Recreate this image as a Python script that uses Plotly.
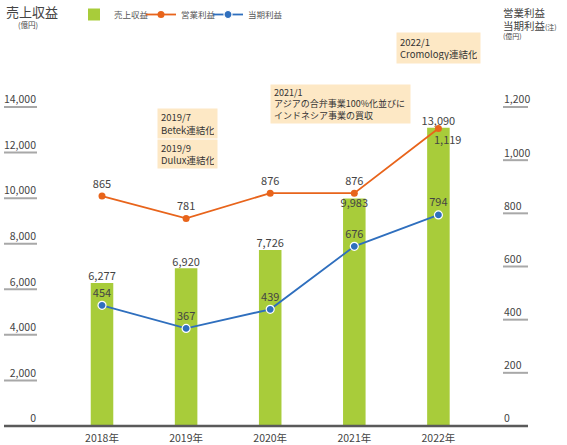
import plotly.graph_objects as go

years = ["2018年", "2019年", "2020年", "2021年", "2022年"]
revenue = [6277, 6920, 7726, 9983, 13090]
operating_profit = [865, 781, 876, 876, 1119]
net_profit = [454, 367, 439, 676, 794]

left_ticks = [0, 2000, 4000, 6000, 8000, 10000, 12000, 14000]
right_ticks = [0, 200, 400, 600, 800, 1000, 1200]

revenue_label_pos = ["top center", "top center", "top center", "bottom center", "top center"]

events = [
    "2022/1<br>Cromology連結化",
    "2021/1<br>アジアの合弁事業100%化並びに<br>インドネシア事業の買収",
    "2019/7<br>Betek連結化",
    "2019/9<br>Dulux連結化",
]

GREEN = "#A8CC3A"
ORANGE = "#E8641B"
BLUE = "#2F6FBE"
TXT = "#444444"
FONT = "Noto Sans CJK JP"

W, H = 567, 445
OL, OR, OT, OB = 4, 528, 96, 430
IL, IR = 37, 503
ZERO_PX, TOP_TICK_PX = 426, 107

PXU = (ZERO_PX - TOP_TICK_PX) / left_ticks[-1]
PXU2 = (ZERO_PX - TOP_TICK_PX) / right_ticks[-1]
Y_RANGE = [-(OB - ZERO_PX) / PXU, (ZERO_PX - OT) / PXU]
Y2_RANGE = [-(OB - ZERO_PX) / PXU2, (ZERO_PX - OT) / PXU2]


def px(x):
    return (x - OL) / (OR - OL)


def py(y):
    return (OB - y) / (OB - OT)


fig = go.Figure()

# baseline and tick underlines first (underneath the data)
for t in left_ticks[1:]:
    fig.add_trace(go.Scatter(
        x=[0, px(IL)], y=[t, t], xaxis="x2", yaxis="y", mode="lines",
        line=dict(color="#A8A8A8", width=2), showlegend=False,
        hoverinfo="skip",
    ))
for t in right_ticks[1:]:
    fig.add_trace(go.Scatter(
        x=[px(IR), 1], y=[t, t], xaxis="x2", yaxis="y2", mode="lines",
        line=dict(color="#A8A8A8", width=2), showlegend=False,
        hoverinfo="skip",
    ))

fig.add_trace(go.Bar(
    x=years, y=revenue, name="売上収益", width=0.268,
    marker=dict(color=GREEN, line=dict(width=0)),
    hoverinfo="skip",
))

fig.add_trace(go.Scatter(
    x=years, y=revenue, mode="text",
    text=[f"{v:,}" for v in revenue], textposition=revenue_label_pos,
    textfont=dict(size=11, color=TXT), showlegend=False, cliponaxis=False,
))

op_text = [f"{v:,}" for v in operating_profit]
op_text[-1] = ""
fig.add_trace(go.Scatter(
    x=years, y=operating_profit, name="営業利益", yaxis="y2",
    mode="lines+markers+text", text=op_text, textposition="top center",
    textfont=dict(size=11, color=TXT),
    line=dict(color=ORANGE, width=1.8),
    marker=dict(color=ORANGE, size=7),
    cliponaxis=False,
))

fig.add_trace(go.Scatter(
    x=years, y=net_profit, name="当期利益", yaxis="y2",
    mode="lines+markers+text", text=[f"{v:,}" for v in net_profit],
    textposition="top center", textfont=dict(size=11, color=TXT),
    line=dict(color=BLUE, width=1.8),
    marker=dict(color=BLUE, size=8, line=dict(color="white", width=1.2)),
    cliponaxis=False,
))

fig.add_trace(go.Scatter(
    x=[None], y=[None], name=" ", mode="lines",
    line=dict(color="rgba(0,0,0,0)", width=0), hoverinfo="skip",
))

# baseline on top of bars
fig.add_trace(go.Scatter(
    x=[0, 1], y=[0, 0], xaxis="x2", yaxis="y2", mode="lines",
    line=dict(color="#5A5A5A", width=2.4), showlegend=False, hoverinfo="skip",
))

annotations = [
    dict(x=years[-1], y=operating_profit[-1], xref="x", yref="y2",
         text=f"{operating_profit[-1]:,}", showarrow=False,
         xshift=9, yshift=-10, font=dict(size=11, color=TXT)),
    dict(x=px(4), y=py(11), xref="paper", yref="paper", text="売上収益",
         showarrow=False, xanchor="left", yanchor="middle",
         font=dict(size=13, color=TXT)),
    dict(x=px(28), y=py(24.5), xref="paper", yref="paper", text="(億円)",
         showarrow=False, xanchor="center", yanchor="middle",
         font=dict(size=7.5, color=TXT)),
    dict(x=px(501), y=py(12), xref="paper", yref="paper", text="営業利益",
         showarrow=False, xanchor="left", yanchor="middle",
         font=dict(size=10.5, color=TXT)),
    dict(x=px(501), y=py(25), xref="paper", yref="paper",
         text="当期利益<span style='font-size:7px'>(注)</span>",
         showarrow=False, xanchor="left", yanchor="middle",
         font=dict(size=10.5, color=TXT)),
    dict(x=px(501), y=py(36.5), xref="paper", yref="paper", text="(億円)",
         showarrow=False, xanchor="left", yanchor="middle",
         font=dict(size=7, color=TXT)),
]

boxes = [
    (events[0], 396, 32, 83, 30, 9.5),
    (events[1], 270, 84, 139, 38, 9),
    (events[2], 157, 108, 59, 29, 9.5),
    (events[3], 157, 139, 59, 28, 9.5),
]
for text, bx, by, bw, bh, fs in boxes:
    annotations.append(dict(
        x=px(bx), y=py(by), xref="paper", yref="paper", text=text,
        showarrow=False, xanchor="left", yanchor="top", align="left",
        valign="middle", bgcolor="#FDE8C5", borderpad=3,
        width=bw - 6, height=bh - 6,
        font=dict(size=fs, color="#333333"),
    ))

fig.update_layout(
    width=W, height=H,
    margin=dict(l=OL, r=W - OR, t=OT, b=H - OB, pad=0, autoexpand=False),
    plot_bgcolor="rgba(0,0,0,0)", paper_bgcolor="white",
    font=dict(family=FONT, size=11, color=TXT),
    xaxis=dict(domain=[px(IL), px(IR)], range=[-0.773, 4.768], anchor="y",
               showgrid=False, showline=False, zeroline=False, ticks="",
               automargin=False, tickfont=dict(size=10.5, color=TXT)),
    xaxis2=dict(domain=[0, 1], range=[0, 1], anchor="y", visible=False,
                showgrid=False, zeroline=False, fixedrange=True),
    yaxis=dict(range=Y_RANGE, anchor="x", tickvals=left_ticks, tickformat=",",
               ticks="", ticklabelposition="outside top", showgrid=False,
               zeroline=False, showline=False, automargin=False,
               tickfont=dict(size=10.5, color=TXT)),
    yaxis2=dict(overlaying="y", anchor="x", side="right", range=Y2_RANGE,
                tickvals=right_ticks, tickformat=",", ticks="",
                ticklabelposition="outside top", showgrid=False,
                zeroline=False, showline=False, automargin=False,
                tickfont=dict(size=10.5, color=TXT)),
    legend=dict(orientation="h", x=px(74), y=py(0), xanchor="left",
                yanchor="top", font=dict(size=8.5, color="#555555"),
                bgcolor="rgba(0,0,0,0)", itemwidth=30, entrywidth=22),
    annotations=annotations,
    hovermode=False,
)

fig.write_html("out.html", config={"displayModeBar": False},
               post_script="document.body.style.margin='0';")
